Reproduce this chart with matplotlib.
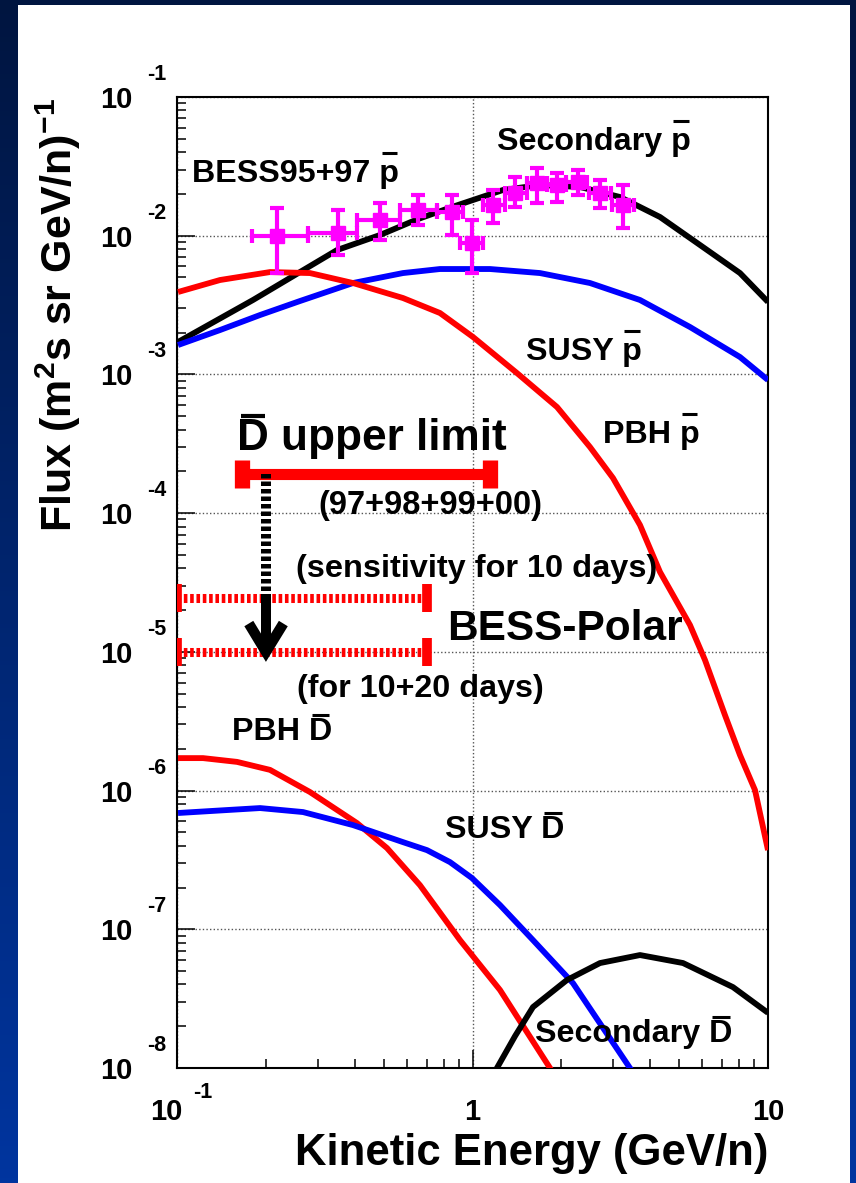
import numpy as np
import matplotlib
matplotlib.use("Agg")
import matplotlib.pyplot as plt
from matplotlib.lines import Line2D
from matplotlib.patches import Rectangle
from matplotlib.colors import LinearSegmentedColormap
from matplotlib.transforms import blended_transform_factory, offset_copy

plt.rcParams['font.family'] = ['Liberation Sans', 'DejaVu Sans']
plt.rcParams['font.weight'] = 'bold'
plt.rcParams['mathtext.fontset'] = 'custom'
plt.rcParams['mathtext.rm'] = 'Liberation Sans:bold'
plt.rcParams['mathtext.it'] = 'Liberation Sans:bold'
plt.rcParams['mathtext.bf'] = 'Liberation Sans:bold'
plt.rcParams['mathtext.default'] = 'bf'

# ---------------- data ----------------
# Secondary antiproton flux
sec_p_E = [0.1008, 0.1808, 0.2607, 0.3479, 0.4864, 0.6539, 0.8524, 1.268, 1.692, 2.311, 3.157,
           4.311, 5.887, 8.039, 10.0]
sec_p_F = [1.713e-3, 3.44e-3, 5.47e-3, 7.88e-3, 1.012e-2, 1.319e-2, 1.610e-2, 2.136e-2, 2.319e-2,
           2.245e-2, 1.901e-2, 1.364e-2, 8.57e-3, 5.38e-3, 3.33e-3]
# SUSY antiproton flux
susy_p_E = [0.1008, 0.1398, 0.1910, 0.2607, 0.3940, 0.5817, 0.7762, 1.146, 1.692, 2.498, 3.688,
            5.445, 8.039, 10.0]
susy_p_F = [1.629e-3, 2.089e-3, 2.681e-3, 3.382e-3, 4.560e-3, 5.38e-3, 5.753e-3, 5.753e-3, 5.38e-3,
            4.56e-3, 3.44e-3, 2.197e-3, 1.335e-3, 9.11e-4]
# PBH antiproton flux
pbh_p_E = [0.1008, 0.1398, 0.2064, 0.2818, 0.3940, 0.5817, 0.7762, 1.004, 1.414, 1.932, 2.498, 2.989,
           3.688, 4.311, 5.445, 6.12, 7.15, 8.039, 9.036, 10.0]
pbh_p_F = [3.927e-3, 4.793e-3, 5.47e-3, 5.38e-3, 4.56e-3, 3.555e-3, 2.771e-3, 1.861e-3, 1.023e-3,
           5.82e-4, 2.996e-4, 1.790e-4, 8.21e-5, 3.762e-5, 1.560e-5, 8.73e-6, 3.501e-6, 1.803e-6,
           1.008e-6, 3.72e-7]
# PBH antideuteron flux
pbh_d_E = [0.1008, 0.1225, 0.1596, 0.2064, 0.2818, 0.4065, 0.5137, 0.664, 0.907, 1.239, 1.829, 1.977]
pbh_d_F = [1.714e-6, 1.714e-6, 1.61e-6, 1.41e-6, 9.76e-7, 5.83e-7, 3.85e-7, 2.08e-7, 8.36e-8, 3.65e-8,
           1.0e-8, 7.5e-9]
# SUSY antideuteron flux
susy_d_E = [0.1008, 0.1293, 0.1910, 0.267, 0.394, 0.5817, 0.7015, 0.8391, 0.996, 1.239, 1.602, 2.188,
            3.41, 3.6]
susy_d_F = [6.89e-7, 7.115e-7, 7.48e-7, 7.0e-7, 5.64e-7, 4.25e-7, 3.72e-7, 3.05e-7, 2.34e-7, 1.495e-7,
            8.36e-8, 4.09e-8, 1.0e-8, 8.5e-9]
# Secondary antideuteron flux
sec_d_E = [1.15, 1.21, 1.393, 1.602, 2.088, 2.701, 3.688, 5.157, 7.61, 9.92, 10.0]
sec_d_F = [8.0e-9, 1.0e-8, 1.698e-8, 2.75e-8, 4.31e-8, 5.71e-8, 6.52e-8, 5.71e-8, 3.83e-8, 2.53e-8, 2.5e-8]

# BESS95+97 antiproton data
bess_E = np.array([0.218, 0.351, 0.486, 0.655, 0.852, 0.996, 1.173, 1.393, 1.652, 1.93, 2.275, 2.70, 3.23])
bess_E_lo = np.array([0.179, 0.277, 0.406, 0.569, 0.758, 0.907, 1.085, 1.288, 1.53, 1.79, 2.08, 2.477, 2.96])
bess_E_hi = np.array([0.277, 0.406, 0.569, 0.758, 0.929, 1.085, 1.288, 1.53, 1.79, 2.08, 2.45, 2.94, 3.52])
bess_F = np.array([9.96e-3, 1.045e-2, 1.297e-2, 1.53e-2, 1.482e-2, 8.86e-3, 1.664e-2, 2.03e-2, 2.40e-2,
                   2.32e-2, 2.44e-2, 2.03e-2, 1.664e-2])
bess_F_lo = np.array([5.38e-3, 7.26e-3, 9.3e-3, 1.19e-2, 1.01e-2, 5.38e-3, 1.235e-2, 1.61e-2, 1.72e-2,
                      1.75e-2, 1.96e-2, 1.58e-2, 1.137e-2])
bess_F_hi = np.array([1.58e-2, 1.53e-2, 1.72e-2, 1.96e-2, 1.96e-2, 1.297e-2, 2.13e-2, 2.65e-2, 3.08e-2,
                      2.83e-2, 2.98e-2, 2.52e-2, 2.32e-2])

# Antideuteron upper limit (97+98+99+00)
dbar_limit = 1.9e-4
dbar_Emin, dbar_Emax = 0.166, 1.146
# BESS-Polar sensitivities (10 days, 10+20 days)
polar_levels = [2.45e-5, 1.0e-5]
polar_Emin, polar_Emax = 0.1, 0.70
arrow_E = 0.2
arrow_end = 1.0e-5

# tick labels
xtick_vals = [0.1, 1.0, 10.0]
xtick_base = ["10", "1", "10"]
xtick_exp = ["-1", "", ""]
ytick_vals = [1e-1, 1e-2, 1e-3, 1e-4, 1e-5, 1e-6, 1e-7, 1e-8]
ytick_exp = ["-1", "-2", "-3", "-4", "-5", "-6", "-7", "-8"]

# ---------------- figure ----------------
W, H = 856, 1183
fig = plt.figure(figsize=(W / 100, H / 100), dpi=100)


def fx(px):
    return px / W


def fy(py):
    return 1 - py / H


bg = fig.add_axes([0, 0, 1, 1], zorder=-10)
cmap = LinearSegmentedColormap.from_list("bgc", ["#001540", "#00359f"])
bg.imshow(np.linspace(0, 1, 256).reshape(-1, 1), aspect='auto', cmap=cmap,
          extent=[0, 1, 0, 1], origin='upper')
bg.add_patch(Rectangle((18 / W, 0), (850 - 18) / W, 1 - 5 / H, transform=bg.transAxes,
                       facecolor='white', edgecolor='none'))
bg.set_xlim(0, 1)
bg.set_ylim(0, 1)
bg.axis('off')

ax = fig.add_axes([fx(177), fy(1068), (768 - 177) / W, (1068 - 97) / H])
ax.set_xscale('log')
ax.set_yscale('log')
ax.set_xlim(0.1, 10)
ax.set_ylim(1e-8, 1e-1)
ax.set_facecolor('white')

ax.xaxis.set_major_locator(matplotlib.ticker.LogLocator(base=10, numticks=20))
ax.xaxis.set_minor_locator(matplotlib.ticker.LogLocator(base=10, subs=np.arange(2, 10), numticks=100))
ax.yaxis.set_major_locator(matplotlib.ticker.LogLocator(base=10, numticks=20))
ax.yaxis.set_minor_locator(matplotlib.ticker.LogLocator(base=10, subs=np.arange(2, 10), numticks=100))
ax.tick_params(which='both', direction='in', top=False, right=False,
               labelbottom=False, labelleft=False, width=1.1, color='black')
ax.tick_params(which='major', length=13)
ax.tick_params(which='minor', length=6.5)
for s in ax.spines.values():
    s.set_linewidth(1.5)
ax.grid(True, which='major', ls=(0, (1, 1.6)), color='#555555', lw=1.0, zorder=0)

lw = 4.2
style = dict(lw=lw, solid_joinstyle='round', solid_capstyle='butt', zorder=3)
ax.plot(sec_p_E, sec_p_F, color='black', **style)
ax.plot(susy_p_E, susy_p_F, color='#0000ff', **style)
ax.plot(pbh_p_E, pbh_p_F, color='#ff0000', **style)
ax.plot(pbh_d_E, pbh_d_F, color='#ff0000', **style)
ax.plot(susy_d_E, susy_d_F, color='#0000ff', **style)
ax.plot(sec_d_E, sec_d_F, color='black', **style)

ax.errorbar(bess_E, bess_F, xerr=[bess_E - bess_E_lo, bess_E_hi - bess_E],
            yerr=[bess_F - bess_F_lo, bess_F_hi - bess_F], fmt='s', color='#ff00ff',
            ms=9.5, elinewidth=3, capsize=5.2, capthick=3, zorder=5)

# antideuteron upper limit
ax.plot([dbar_Emin, dbar_Emax], [dbar_limit, dbar_limit], color='#ff0000', lw=8,
        solid_capstyle='butt', zorder=6)
ax.plot([dbar_Emin, dbar_Emax], [dbar_limit, dbar_limit], ls='none', marker='|',
        ms=19.5, mew=11, color='#ff0000', zorder=6)

# BESS-Polar sensitivity lines
for lvl in polar_levels:
    ax.plot([polar_Emin, polar_Emax], [lvl, lvl], color='#ff0000', lw=6.5,
            ls=(0, (0.4, 0.3)), dash_capstyle='butt', zorder=6)
    ax.plot([polar_Emin, polar_Emax], [lvl, lvl], ls='none', marker='|',
            ms=20, mew=7, color='#ff0000', zorder=6)

# arrow (dotted shaft + solid end + chevron head)
arrow_mid = 2.57e-5
ax.plot([arrow_E, arrow_E], [dbar_limit, arrow_mid], color='black', lw=7.2,
        ls=(0, (0.45, 0.3)), dash_capstyle='butt', zorder=7)
ax.plot([arrow_E, arrow_E], [arrow_mid, arrow_end * 1.08], color='black', lw=7.2,
        solid_capstyle='butt', zorder=7)
ax.plot([0.175, arrow_E, 0.229], [1.6e-5, arrow_end, 1.6e-5], color='black', lw=7.5,
        solid_joinstyle='miter', solid_capstyle='butt', zorder=7)

# tick labels (ROOT style)
ytr = blended_transform_factory(ax.transAxes, ax.transData)
for v, e in zip(ytick_vals, ytick_exp):
    ax.text(0, v, "10", transform=offset_copy(ytr, fig=fig, x=-45, y=-11, units='dots'),
            ha='right', va='baseline', fontsize=21, fontweight='bold')
    ax.text(0, v, e, transform=offset_copy(ytr, fig=fig, x=-30, y=17, units='dots'),
            ha='left', va='baseline', fontsize=15.5, fontweight='bold')
xtr = blended_transform_factory(ax.transData, ax.transAxes)
for v, b, e in zip(xtick_vals, xtick_base, xtick_exp):
    if e:
        ax.text(v, 0, b, transform=offset_copy(xtr, fig=fig, x=6, y=-52, units='dots'),
                ha='right', va='baseline', fontsize=21, fontweight='bold')
        ax.text(v, 0, e, transform=offset_copy(xtr, fig=fig, x=16, y=-30, units='dots'),
                ha='left', va='baseline', fontsize=15.5, fontweight='bold')
    else:
        ax.text(v, 0, b, transform=offset_copy(xtr, fig=fig, x=0, y=-52, units='dots'),
                ha='center', va='baseline', fontsize=21, fontweight='bold')

# axis titles
fig.text(fx(768), fy(1165), "Kinetic Energy (GeV/n)", ha='right', va='baseline',
         fontsize=31.4, fontweight='bold')
fig.text(fx(72), fy(98), r"Flux (m$^{2}$s sr GeV/n)$^{-1}$", rotation=90,
         rotation_mode='anchor', ha='right', va='baseline', fontsize=31, fontweight='bold')

# annotations
bars = []


def label(px, py, s, size=23.2, bar=None, bar_dy=0, bar_lw=2.2):
    t = fig.text(fx(px), fy(py), s, ha='left', va='baseline', fontsize=size, fontweight='bold')
    if bar is not None:
        bars.append((t, bar, py, bar_dy, bar_lw))
    return t


label(192, 182, "BESS95+97 p", bar='last', bar_dy=29)
label(497, 150, "Secondary p", bar='last', bar_dy=29)
label(526, 360, "SUSY p", bar='last', bar_dy=29)
label(603, 443, "PBH p", bar='last', bar_dy=29)
label(237, 450, "D upper limit", size=31.8, bar='first', bar_dy=34, bar_lw=3)
label(318, 514, "(97+98+99+00)", size=23.5)
label(296, 577, "(sensitivity for 10 days)", size=23.4)
label(447, 640, "BESS-Polar", size=30.5)
label(297, 697, "(for 10+20 days)")
label(232, 740, "PBH D", bar='last', bar_dy=25)
label(445, 838, "SUSY D", bar='last', bar_dy=25)
label(535, 1042, "Secondary D", bar='last', bar_dy=25)

fig.canvas.draw()
renderer = fig.canvas.get_renderer()
for t, where, py, dy, blw in bars:
    bb = t.get_window_extent(renderer)
    s = t.get_text()
    ch = s[-1] if where == 'last' else s[0]
    tmp = fig.text(0, 0, ch, fontsize=t.get_fontsize(), fontweight='bold')
    wch = tmp.get_window_extent(renderer).width
    tmp.remove()
    if where == 'last':
        x1 = bb.x1
        x0 = x1 - wch
    else:
        x0 = bb.x0
        x1 = x0 + wch
    pad = wch * 0.12
    ybar = (H - py) + dy
    fig.add_artist(Line2D([(x0 + pad) / W, (x1 - pad) / W], [ybar / H, ybar / H],
                          transform=fig.transFigure, lw=blw, color='black',
                          solid_capstyle='butt'))

fig.savefig("out.png", dpi=100)
